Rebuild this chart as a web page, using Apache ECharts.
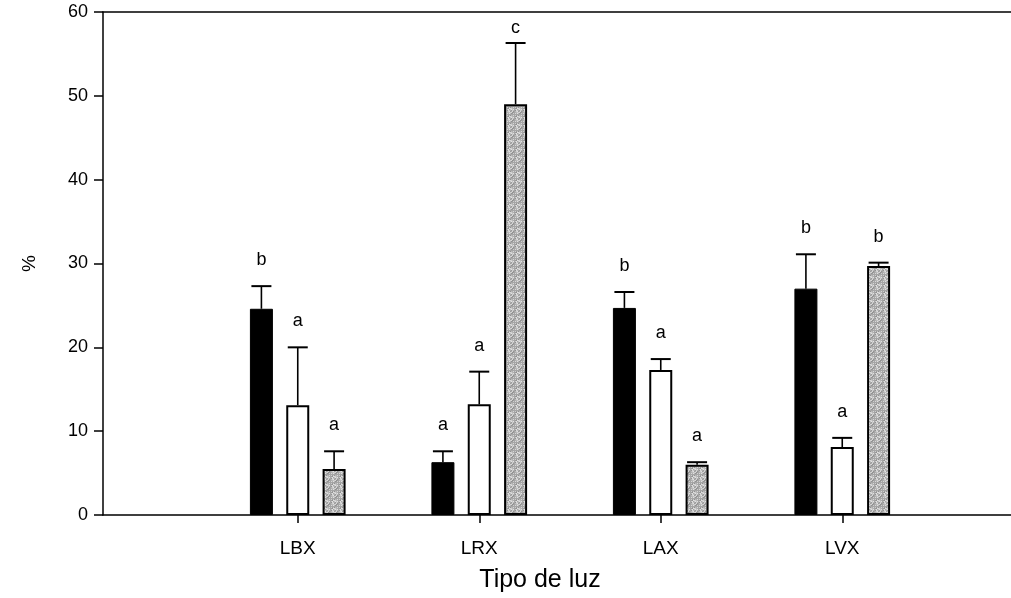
<!DOCTYPE html>
<html>
<head>
<meta charset="utf-8">
<script src="https://cdn.jsdelivr.net/npm/echarts@6/dist/echarts.min.js"></script>
<style>html,body{margin:0;padding:0;background:#fff;}#c{width:1011px;height:598px;}</style>
</head>
<body>
<div id="c"></div>
<script>
// ---- data ----
var categories = ['LBX', 'LRX', 'LAX', 'LVX'];
var blackMean = [24.6, 6.3, 24.7, 27.0];
var blackErr  = [2.7, 1.3, 1.9, 4.1];
var blackLetters = ['b', 'a', 'b', 'b'];
var whiteMean = [13.1, 13.2, 17.3, 8.1];
var whiteErr  = [6.9, 3.9, 1.3, 1.1];
var whiteLetters = ['a', 'a', 'a', 'a'];
var grayMean = [5.5, 49.0, 6.0, 29.7];
var grayErr  = [2.1, 7.3, 0.3, 0.4];
var grayLetters = ['a', 'c', 'a', 'b'];
var yTicks = [0, 10, 20, 30, 40, 50, 60];

// ---- style ----
var FONT = 'Liberation Sans, Arial, sans-serif';
var BAR_W = 23, BAR_GAP = '58%';

function makeGrayPattern() {
  var cv = document.createElement('canvas');
  cv.width = 8; cv.height = 8;
  var ctx = cv.getContext('2d');
  for (var i = 0; i < 8; i++) {
    for (var j = 0; j < 8; j++) {
      var h = (i * 37 + j * 91 + i * j * 13) % 9;
      var g = 145 + h * 10;
      ctx.fillStyle = 'rgb(' + g + ',' + g + ',' + g + ')';
      ctx.fillRect(i, j, 1, 1);
    }
  }
  return cv;
}

var chart = echarts.init(document.getElementById('c'), null, {renderer: 'canvas'});

function errSeries(seriesIdx, means, errs, letters) {
  var data = means.map(function (m, i) { return [i, m, errs[i]]; });
  return {
    type: 'custom',
    xAxisIndex: 2, yAxisIndex: 1,
    z: 10,
    silent: true,
    data: data,
    renderItem: function (params, api) {
      var ci = api.value(0), m = api.value(1), e = api.value(2);
      var letter = letters[params.dataIndex];
      var band = api.size([1, 0])[0];
      var lay = api.barLayout({bandWidth: band, barWidth: BAR_W, barGap: BAR_GAP, count: 3});
      var base = api.coord([ci, m]);
      var cap = api.coord([ci, m + e]);
      var x = base[0] + lay[seriesIdx].offsetCenter;
      var top = params.coordSys.y;
      var ly = Math.max(cap[1] - 26, top + 16);
      return {
        type: 'group',
        children: [
          {type: 'line', shape: {x1: x, y1: base[1], x2: x, y2: cap[1]}, style: {stroke: '#000', lineWidth: 1.6}},
          {type: 'line', shape: {x1: x - 10, y1: cap[1], x2: x + 10, y2: cap[1]}, style: {stroke: '#000', lineWidth: 2}},
          {type: 'text', x: x, y: ly, style: {text: letter, fill: '#000', font: '18px ' + FONT, align: 'center', verticalAlign: 'middle'}}
        ]
      };
    }
  };
}

var option = {
  backgroundColor: '#fff',
  animation: false,
  grid: [
    {left: 103, right: 0, top: 12, bottom: 83, containLabel: false},
    {left: 207, right: 78, top: 12, bottom: 83, containLabel: false}
  ],
  xAxis: [
    {gridIndex: 0, type: 'value', min: 0, max: 1, position: 'bottom',
     axisLine: {show: true, onZero: false, lineStyle: {color: '#000', width: 1.5}},
     axisTick: {show: false}, axisLabel: {show: false}, splitLine: {show: false},
     name: 'Tipo de luz', nameLocation: 'middle', nameGap: 53,
     nameTextStyle: {fontFamily: FONT, fontSize: 25, color: '#000', padding: [0, 0, 0, -34]}},
    {gridIndex: 0, type: 'value', min: 0, max: 1, position: 'top',
     axisLine: {show: true, onZero: false, lineStyle: {color: '#000', width: 1.5}},
     axisTick: {show: false}, axisLabel: {show: false}, splitLine: {show: false}},
    {gridIndex: 1, type: 'category', data: categories, position: 'bottom',
     axisLine: {show: false},
     axisTick: {show: true, alignWithLabel: true, length: 8, lineStyle: {color: '#000', width: 1.5}},
     axisLabel: {fontFamily: FONT, fontSize: 19, color: '#000', margin: 24},
     splitLine: {show: false}}
  ],
  yAxis: [
    {gridIndex: 0, type: 'value', min: yTicks[0], max: yTicks[yTicks.length - 1], interval: 10,
     axisLine: {show: true, lineStyle: {color: '#000', width: 1.5}},
     axisTick: {show: true, inside: false, length: 9, lineStyle: {color: '#000', width: 1.5}},
     axisLabel: {fontFamily: FONT, fontSize: 18, color: '#000', margin: 15},
     splitLine: {show: false},
     name: '%', nameLocation: 'middle', nameGap: 64, nameRotate: 90,
     nameTextStyle: {fontFamily: FONT, fontSize: 19, color: '#000'}},
    {gridIndex: 1, type: 'value', min: yTicks[0], max: yTicks[yTicks.length - 1], interval: 10, show: false}
  ],
  series: [
    {type: 'bar', xAxisIndex: 2, yAxisIndex: 1, data: blackMean, barWidth: BAR_W, barGap: BAR_GAP,
     itemStyle: {color: '#000', borderColor: '#000', borderWidth: 1}},
    {type: 'bar', xAxisIndex: 2, yAxisIndex: 1, data: whiteMean, barWidth: BAR_W, barGap: BAR_GAP,
     itemStyle: {color: '#fff', borderColor: '#000', borderWidth: 2}},
    {type: 'bar', xAxisIndex: 2, yAxisIndex: 1, data: grayMean, barWidth: BAR_W, barGap: BAR_GAP,
     itemStyle: {color: {image: makeGrayPattern(), repeat: 'repeat'}, borderColor: '#000', borderWidth: 2}},
    errSeries(0, blackMean, blackErr, blackLetters),
    errSeries(1, whiteMean, whiteErr, whiteLetters),
    errSeries(2, grayMean, grayErr, grayLetters)
  ]
};
chart.setOption(option);
</script>
</body>
</html>
